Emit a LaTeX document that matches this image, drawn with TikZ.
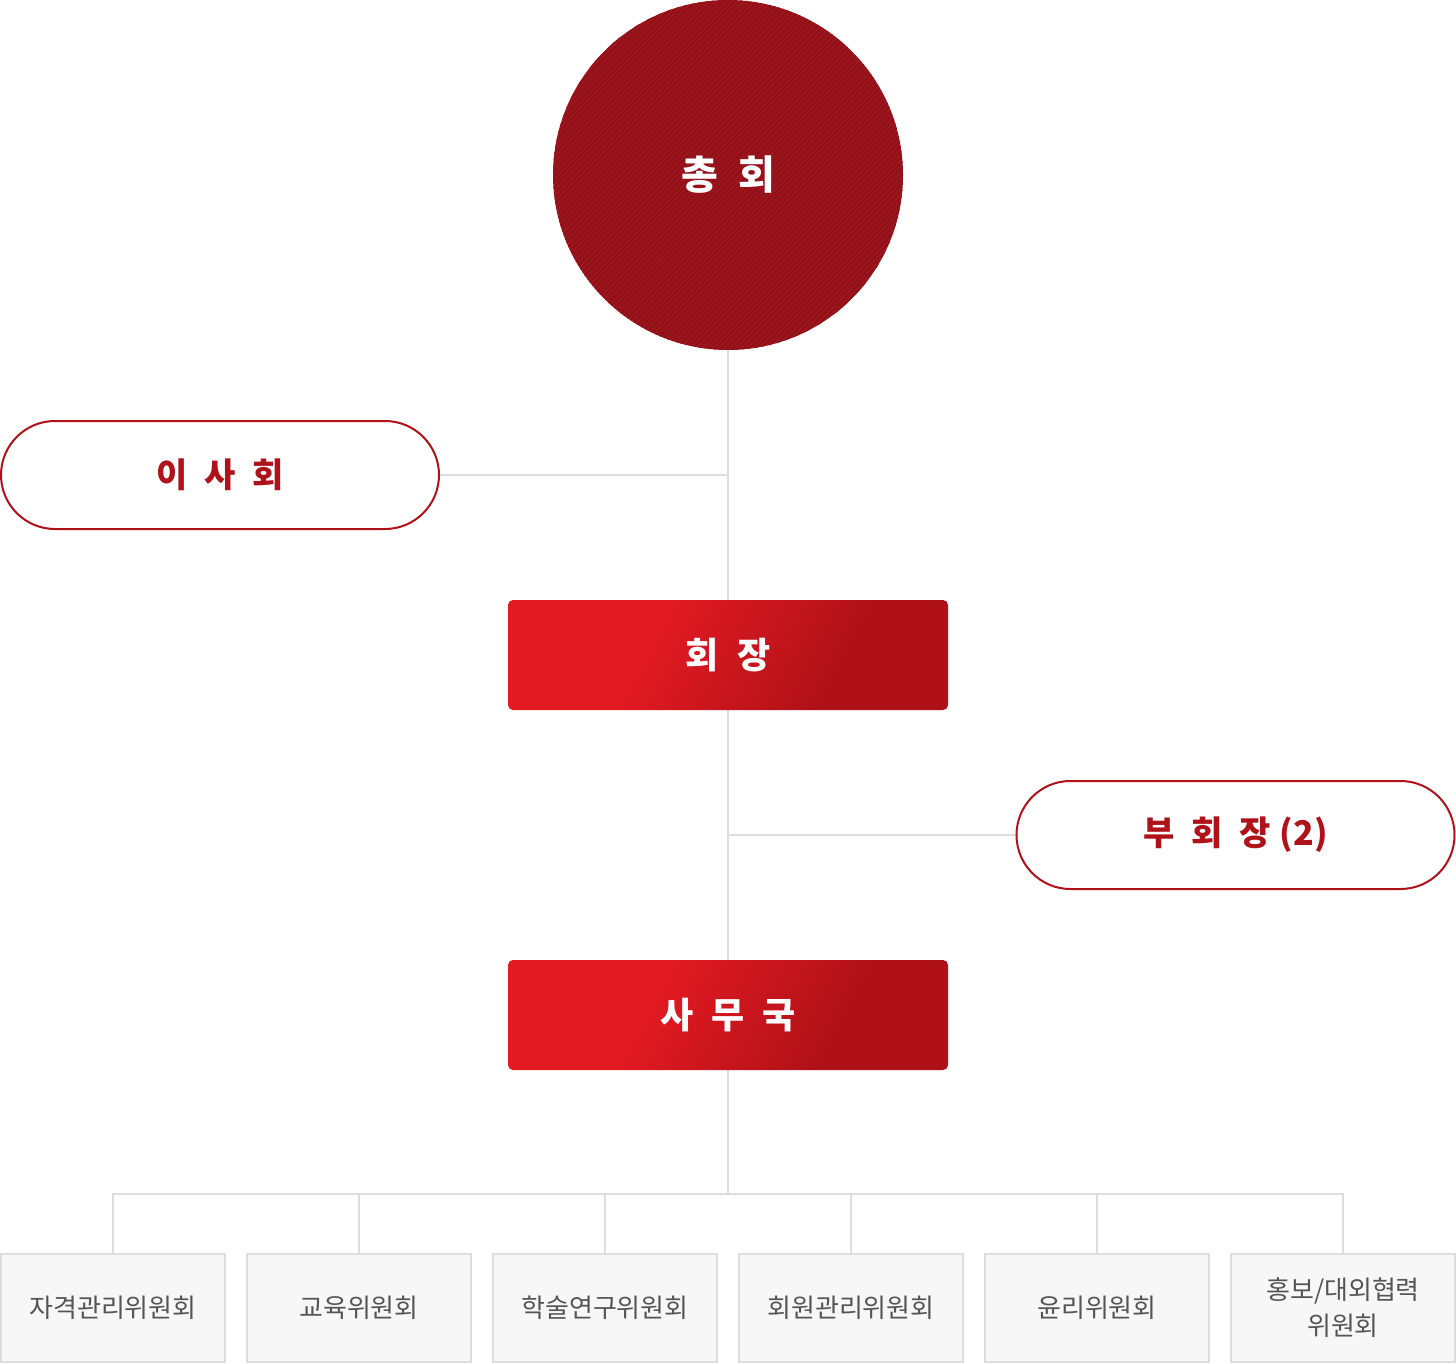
\documentclass[tikz,border=0pt]{standalone}
\usepackage{fontspec}
\setmainfont{Noto Sans CJK KR}
\usetikzlibrary{positioning,patterns.meta,backgrounds}
\definecolor{zhred}{HTML}{9C141C}
\definecolor{zhstripe}{HTML}{8C1018}
\definecolor{hjlight}{HTML}{E31A22}
\definecolor{hjdark}{HTML}{B01118}
\definecolor{pillred}{HTML}{B0121A}
\definecolor{orgline}{HTML}{DDDDDD}
\definecolor{wbfill}{HTML}{F7F7F7}
\definecolor{wbtext}{HTML}{555555}
\pgfdeclarehorizontalshading{hjshade}{100bp}{color(0bp)=(hjlight); color(38bp)=(hjlight); color(66bp)=(hjdark); color(100bp)=(hjdark)}
\newcommand{\kgap}{\hspace{0.5em}}
\tikzset{
  linkline/.style={draw=orgline,line width=1pt},
  pillbox/.style={draw=pillred,line width=1pt,fill=white,rounded corners=27pt,minimum width=219pt,minimum height=54pt,text=pillred,font=\fontsize{17}{20}\selectfont\bfseries},
  headbox/.style={shading=hjshade,shading angle=-28,rounded corners=2.5pt,minimum width=220pt,minimum height=55pt,text=white,font=\fontsize{18}{21}\selectfont\bfseries},
  wbox/.style={draw=orgline,line width=1pt,fill=wbfill,minimum width=112pt,minimum height=54pt,text=wbtext,font=\fontsize{13}{18}\selectfont,align=center},
}
\begin{document}
\begin{tikzpicture}[x=0.5pt,y=-0.5pt]
\pgfmathsetmacro{\wstep}{246}
\useasboundingbox (0,0) rectangle (1456,1364);
% main chain
\node[circle,minimum size=175pt,inner sep=0pt,fill=zhred,postaction={pattern={Lines[angle=45,distance=2pt,line width=0.6pt]},pattern color=zhstripe},text=white,font=\fontsize{20}{24}\selectfont\bfseries](zh) at (728,175){총\kgap 회};
\node[pillbox](ish) at (220,475){이\kgap 사\kgap 회};
\node[headbox](hj) at (728,655){회\kgap 장};
\node[pillbox](bhj) at (1235.5,835){부\kgap 회\kgap 장\hspace{0.25em}(2)};
\node[headbox](smg) at (728,1015){사\kgap 무\kgap 국};
\coordinate(bus) at (728,1194);
% committees
\foreach \i/\wlb in {1/자격관리위원회,2/교육위원회,3/학술연구위원회,4/회원관리위원회,5/윤리위원회,6/{홍보/대외협력\\위원회}}{
  \node[wbox](c\i) at (113+\i*\wstep-\wstep,1308){\wlb};
}
\begin{scope}[on background layer]
\draw[linkline](zh.south)--(hj.north);
\draw[linkline](hj.south)--(smg.north);
\draw[linkline](smg.south)--(bus);
\draw[linkline](ish.east)--(ish.east-|zh.south);
\draw[linkline](bhj.west)--(bhj.west-|hj.south);
\foreach \i in {1,...,6}{\draw[linkline](c\i.north)|-(bus);}
\end{scope}
\end{tikzpicture}
\end{document}
